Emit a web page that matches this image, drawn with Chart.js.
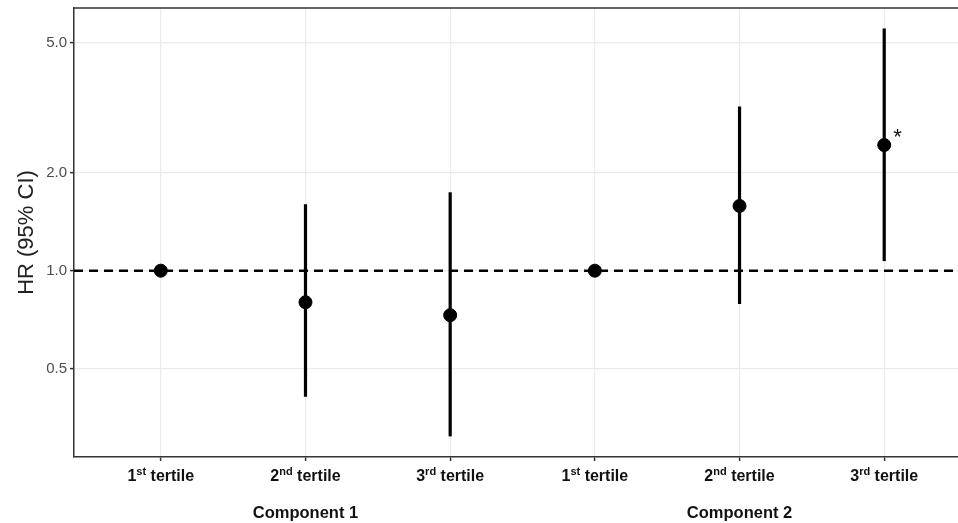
<!DOCTYPE html>
<html>
<head>
<meta charset="utf-8">
<script src="https://cdn.jsdelivr.net/npm/chart.js@4"></script>
<style>
  html, body { margin: 0; padding: 0; background: #fff; overflow: hidden; }
  #wrap { width: 958px; height: 523px; }
</style>
</head>
<body>
<div id="wrap"><canvas id="hrChart" width="958" height="523"></canvas></div>
<script>
// tick labels (number + superscript suffix) for the six groups
const tickNums = ['1', '2', '3', '1', '2', '3'];
const tickSups = ['st', 'nd', 'rd', 'st', 'nd', 'rd'];
const components = ['Component 1', 'Component 2'];
const componentCenters = [1, 4];

// hazard ratios and 95% CI
const hr = [1.0, 0.80, 0.73, 1.0, 1.58, 2.43];
const ciLow = [null, 0.41, 0.31, null, 0.79, 1.07];
const ciHigh = [null, 1.60, 1.74, null, 3.19, 5.54];
const significant = [false, false, false, false, false, true];

const yTicks = [0.5, 1, 2, 5];
const refValue = 1;

const FONT = '"Liberation Sans", Arial, sans-serif';
const xMin = -0.6, xMax = 5.51;

// one small two-point line per confidence interval
const ciSets = [];
hr.forEach((v, i) => {
  if (ciLow[i] === null) return;
  ciSets.push({
    type: 'line',
    data: [{x: i, y: ciLow[i]}, {x: i, y: ciHigh[i]}],
    borderColor: '#000',
    borderWidth: 3.2,
    pointRadius: 0,
    borderCapStyle: 'butt'
  });
});

// labels under the axis with superscripts, plus the asterisk and top border
const extras = {
  id: 'extras',
  afterDraw(chart) {
    const ctx = chart.ctx;
    const xs = chart.scales.x, ys = chart.scales.y;
    const area = chart.chartArea;
    ctx.save();

    // top panel border
    ctx.strokeStyle = '#333';
    ctx.lineWidth = 1.5;
    ctx.beginPath();
    ctx.moveTo(area.left, area.top);
    ctx.lineTo(area.right, area.top);
    ctx.stroke();

    ctx.fillStyle = '#111';
    ctx.textBaseline = 'alphabetic';
    tickNums.forEach((n, i) => {
      const main = 'bold 16px ' + FONT;
      const sup = 'bold 11px ' + FONT;
      ctx.font = main;
      const wN = ctx.measureText(n).width;
      const wT = ctx.measureText(' tertile').width;
      ctx.font = sup;
      const wS = ctx.measureText(tickSups[i]).width;
      let x = xs.getPixelForValue(i) - (wN + wS + wT) / 2;
      const y = area.bottom + 24;
      ctx.textAlign = 'left';
      ctx.font = main;
      ctx.fillText(n, x, y);
      x += wN;
      ctx.font = sup;
      ctx.fillText(tickSups[i], x, y - 6);
      x += wS;
      ctx.font = main;
      ctx.fillText(' tertile', x, y);
    });

    ctx.textAlign = 'center';
    ctx.font = 'bold 16.5px ' + FONT;
    components.forEach((c, k) => {
      ctx.fillText(c, xs.getPixelForValue(componentCenters[k]), area.bottom + 61);
    });

    ctx.font = '22px ' + FONT;
    ctx.textAlign = 'left';
    hr.forEach((v, i) => {
      if (!significant[i]) return;
      ctx.fillText('*', xs.getPixelForValue(i) + 9, ys.getPixelForValue(v) - 1);
    });
    ctx.restore();
  }
};

new Chart(document.getElementById('hrChart'), {
  type: 'scatter',
  data: {
    datasets: [
      {
        data: hr.map((v, i) => ({x: i, y: v})),
        backgroundColor: '#000',
        borderColor: '#000',
        pointRadius: 6.5,
        pointHoverRadius: 6.5
      },
      ...ciSets,
      {
        type: 'line',
        data: [{x: xMin, y: refValue}, {x: xMax, y: refValue}],
        borderColor: '#000',
        borderWidth: 2.5,
        borderDash: [9, 6],
        pointRadius: 0
      }
    ]
  },
  options: {
    responsive: false,
    animation: false,
    layout: {autoPadding: false, padding: {top: 8, right: 0, left: 0, bottom: 0}},
    plugins: {legend: {display: false}, tooltip: {enabled: false}},
    scales: {
      x: {
        type: 'linear',
        min: xMin,
        max: xMax,
        afterBuildTicks: s => { s.ticks = hr.map((v, i) => ({value: i})); },
        afterFit: s => { s.height = 66; s.paddingLeft = 0; s.paddingRight = 0; },
        ticks: {display: false},
        grid: {color: '#ebebeb', lineWidth: 1.2, tickLength: 4, tickColor: '#333', tickWidth: 1.5},
        border: {color: '#333', width: 1.5}
      },
      y: {
        type: 'logarithmic',
        min: 0.268,
        max: 6.4,
        afterBuildTicks: s => { s.ticks = yTicks.map(v => ({value: v})); },
        afterFit: s => { s.width = 74; s.paddingTop = 0; s.paddingBottom = 0; },
        ticks: {
          color: '#4d4d4d',
          font: {family: FONT, size: 15},
          padding: 3,
          callback: v => Number(v).toFixed(1)
        },
        grid: {color: '#ebebeb', lineWidth: 1.2, tickLength: 4, tickColor: '#333', tickWidth: 1.5},
        border: {color: '#333', width: 1.5},
        title: {
          display: true,
          text: 'HR (95% CI)',
          color: '#222',
          font: {family: FONT, size: 22},
          padding: {top: 14, bottom: 0}
        }
      }
    }
  },
  plugins: [extras]
});
</script>
</body>
</html>
